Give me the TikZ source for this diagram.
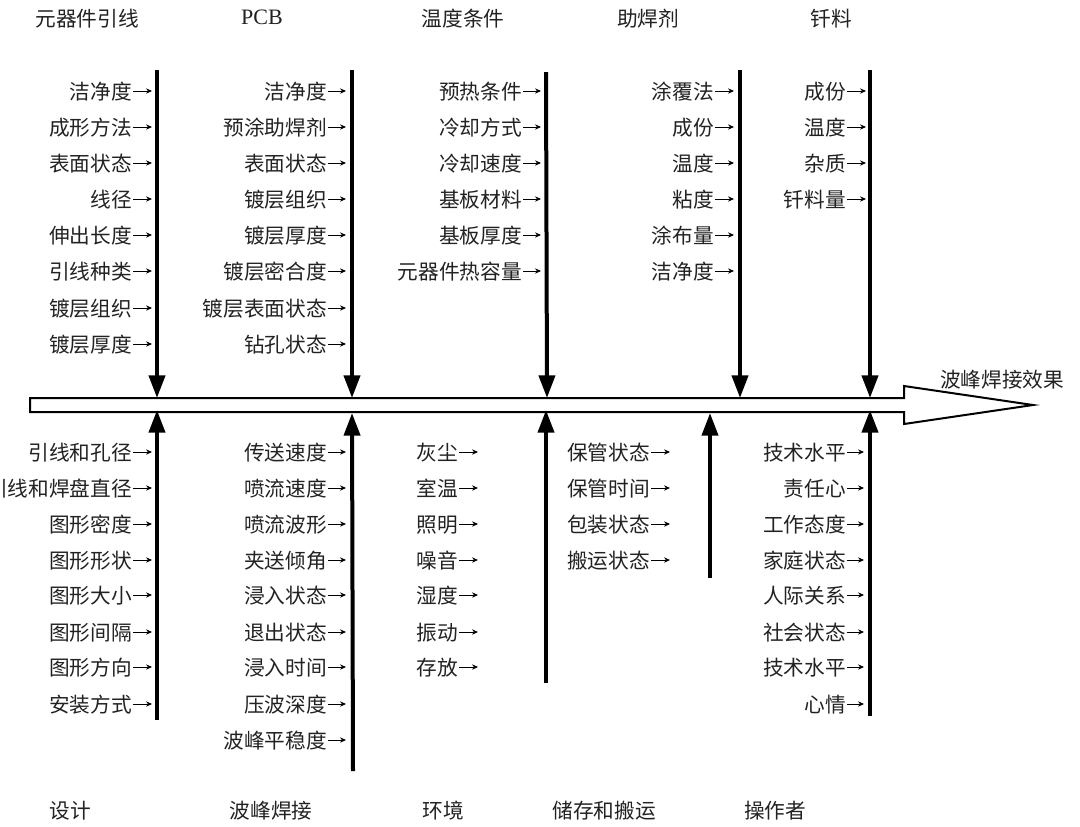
\documentclass[tikz,border=0pt]{standalone}
\usepackage{fontspec}
\setmainfont{Noto Sans CJK SC}
\newfontfamily\latinserif{Liberation Serif}
\usetikzlibrary{arrows.meta}
\definecolor{ink}{HTML}{222222}
\tikzset{
  x=0.75pt,y=-0.75pt,
  lbl/.style={inner sep=0pt,anchor=east,font=\fontsize{15.5pt}{16pt}\selectfont,text=ink},
  ttl/.style={inner sep=0pt,anchor=center,font=\fontsize{15.5pt}{16pt}\selectfont,text=ink},
  spine/.style={line width=3pt,black,-{Triangle[length=17pt,width=12pt]}},
  tick/.style={line width=0.65pt,black,-{Stealth[length=4.5pt,width=4pt]}},
  mainarrow/.style={line width=1.5pt,black,fill=white,line join=miter}
}
% \rowsat{id}{label right x}{tick end x}{list of y/text}
\newcommand{\rowsat}[4]{%
  \foreach \yy/\tx [count=\n] in {#4}{%
    \node[lbl] (#1l\n) at (#2,\yy+0.8) {\tx};
    \coordinate (#1e\n) at (#3,\yy);
    \coordinate (#1b\n) at (#2+1,\yy);
    \draw[tick] (#1b\n) -- (#1e\n);
  }%
}
\begin{document}
\begin{tikzpicture}
\useasboundingbox (0,0) rectangle (1080,826);
% main arrow
\coordinate (m1) at (30,398);
\coordinate (m2) at (904,398);
\coordinate (m3) at (904,386);
\coordinate (tip) at (1033,405);
\coordinate (m4) at (904,424);
\coordinate (m5) at (904,412);
\coordinate (m6) at (30,412);
\draw[mainarrow] (m1) -- (m2) -- (m3) -- (tip) -- (m4) -- (m5) -- (m6) -- cycle;
% top spines
\foreach \nm/\xx/\xe/\ys in {a/157/157/70,b/352/352/70,c/546/547/72,d/740/740/70,e/870/870/70}{
  \coordinate (\nm s) at (\xx,\ys);
  \coordinate (\nm t) at (\xe,398);
  \draw[spine] (\nm s) -- (\nm t);
}
% bottom spines
\foreach \nm/\xx/\xe/\ys/\ye in {f/157/157/720/410,g/353/352/771/413,h/546/546/683/410,i/710/710/578/413,j/870/870/716/410}{
  \coordinate (\nm s) at (\xx,\ys);
  \coordinate (\nm t) at (\xe,\ye);
  \draw[spine] (\nm s) -- (\nm t);
}
% titles
\node[ttl] (t1) at (87,19) {元器件引线};
\node[ttl] (t2) at (262,17) {\fontsize{16.5pt}{17pt}\selectfont\latinserif PCB};
\node[ttl] (t3) at (463,19) {温度条件};
\node[ttl] (t4) at (648,19) {助焊剂};
\node[ttl] (t5) at (831,19) {钎料};
\node[ttl] (b1) at (70,811) {设计};
\node[ttl] (b2) at (271,811) {波峰焊接};
\node[ttl] (b3) at (443,811) {环境};
\node[ttl] (b4) at (604,811) {储存和搬运};
\node[ttl] (b5) at (775,811) {操作者};
\node[ttl] (res) at (1002,380) {波峰焊接效果};
% top labels
\rowsat{a}{132}{152}{91/洁净度,127/成形方法,163/表面状态,199/线径,235/伸出长度,271/引线种类,308/镀层组织,344/镀层厚度}
\rowsat{b}{327}{346}{91/洁净度,127/预涂助焊剂,163/表面状态,199/镀层组织,235/镀层厚度,271/镀层密合度,308/镀层表面状态,344/钻孔状态}
\rowsat{c}{522}{541}{91/预热条件,127/冷却方式,163/冷却速度,199/基板材料,235/基板厚度,271/元器件热容量}
\rowsat{d}{714}{734}{91/涂覆法,127/成份,163/温度,199/粘度,235/涂布量,271/洁净度}
\rowsat{e}{846}{866}{91/成份,127/温度,163/杂质,199/钎料量}
% bottom labels
\rowsat{f}{132}{152}{452/引线和孔径,488/引线和焊盘直径,524/图形密度,560/图形形状,595/图形大小,632/图形间隔,667/图形方向,704/安装方式}
\rowsat{g}{327}{346}{452/传送速度,488/喷流速度,524/喷流波形,560/夹送倾角,595/浸入状态,632/退出状态,667/浸入时间,704/压波深度,740/波峰平稳度}
\rowsat{h}{458}{478}{452/灰尘,488/室温,524/照明,560/噪音,595/湿度,632/振动,667/存放}
\rowsat{i}{650}{670}{452/保管状态,488/保管时间,524/包装状态,560/搬运状态}
\rowsat{j}{846}{864}{452/技术水平,488/责任心,524/工作态度,560/家庭状态,595/人际关系,632/社会状态,667/技术水平,704/心情}
\end{tikzpicture}
\end{document}
